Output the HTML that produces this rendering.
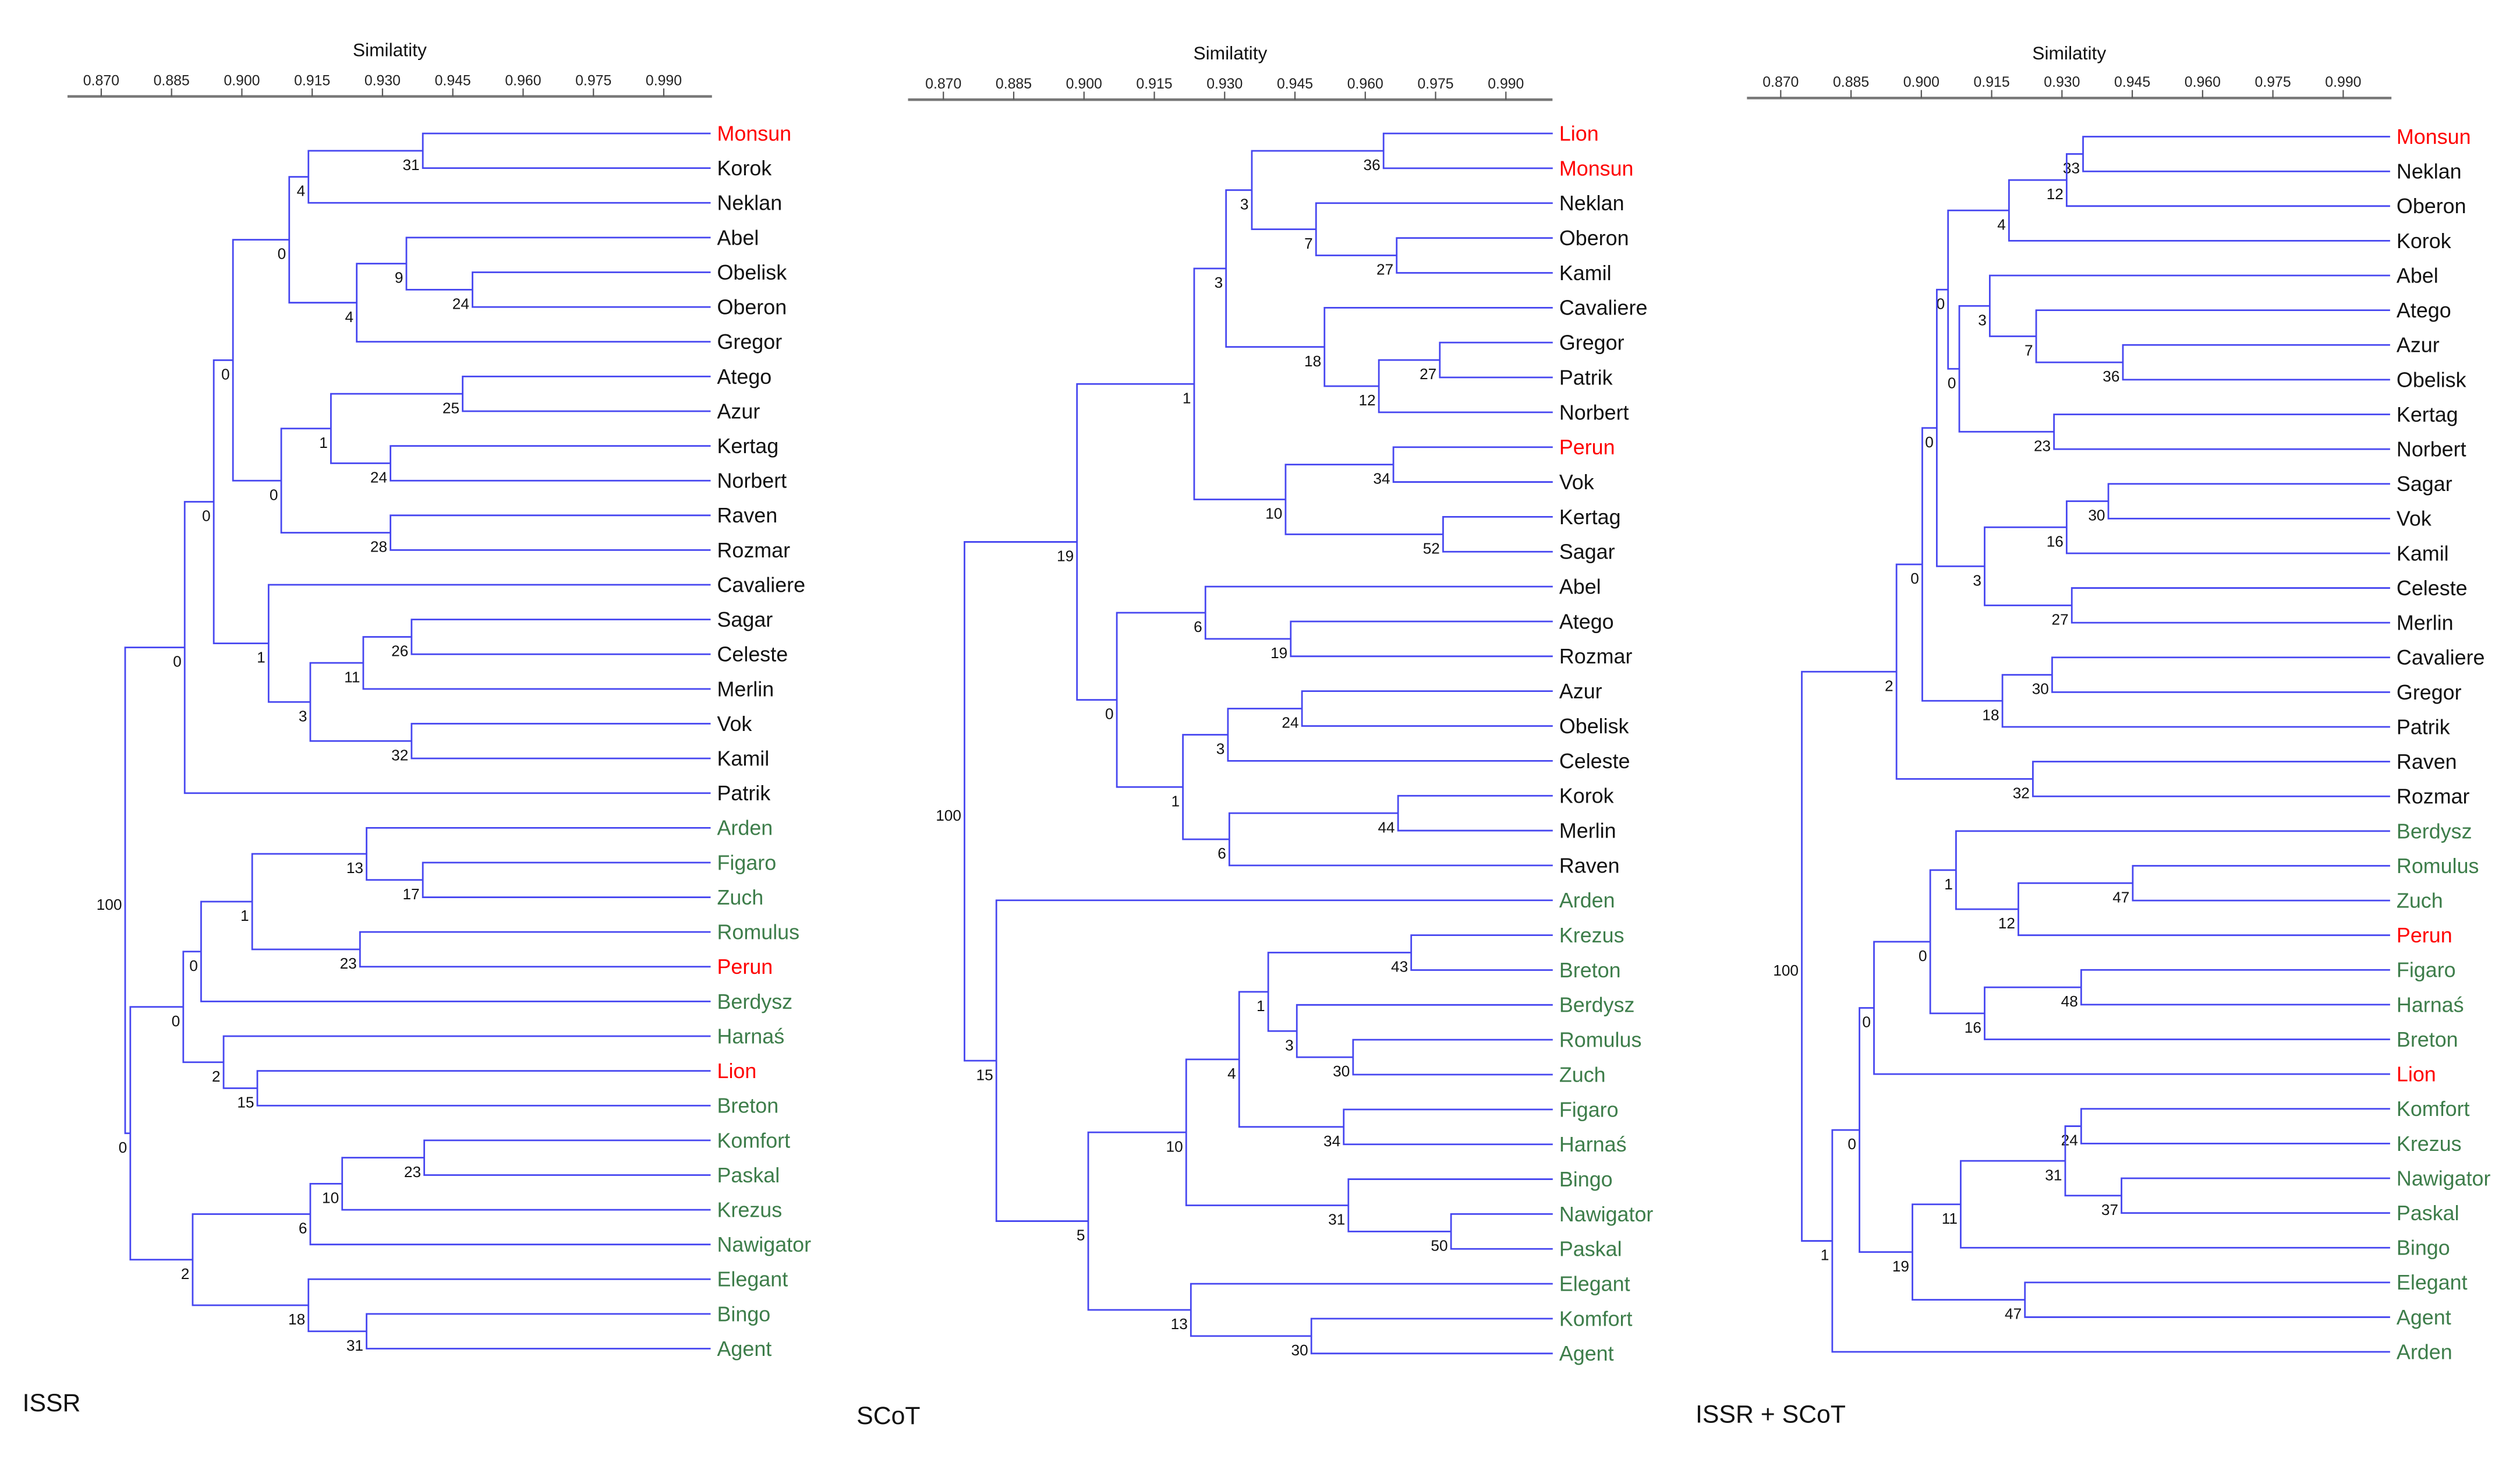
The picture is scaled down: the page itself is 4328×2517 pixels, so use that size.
<!DOCTYPE html>
<html><head><meta charset="utf-8">
<style>
html,body{margin:0;padding:0;background:#fff;}
svg{display:block;}
text{font-family:"Liberation Sans",sans-serif;}
</style></head>
<body>
<svg id="chart" width="4328" height="2517" viewBox="0 0 1568 912" preserveAspectRatio="none" xmlns="http://www.w3.org/2000/svg"></svg>
<script>
const tickValues = [0.870,0.885,0.900,0.915,0.930,0.945,0.960,0.975,0.990];
const tickLabels = ["0.870","0.885","0.900","0.915","0.930","0.945","0.960","0.975","0.990"];
const panelTitles = ["ISSR","SCoT","ISSR + SCoT"];

const leaves1 = ["Monsun","Korok","Neklan","Abel","Obelisk","Oberon","Gregor","Atego","Azur","Kertag","Norbert","Raven","Rozmar","Cavaliere","Sagar","Celeste","Merlin","Vok","Kamil","Patrik","Arden","Figaro","Zuch","Romulus","Perun","Berdysz","Harnaś","Lion","Breton","Komfort","Paskal","Krezus","Nawigator","Elegant","Bingo","Agent"];
const red1 = ["Monsun","Perun","Lion"];
const green1 = ["Arden","Figaro","Zuch","Romulus","Berdysz","Harnaś","Breton","Komfort","Paskal","Krezus","Nawigator","Elegant","Bingo","Agent"];
const merges1 = [
["Monsun","Korok",.9386,31],["m0","Neklan",.9142,4],["Obelisk","Oberon",.9492,24],["Abel","m2",.9351,9],
["m3","Gregor",.9245,4],["m1","m4",.9101,0],["Atego","Azur",.9471,25],["Kertag","Norbert",.9317,24],
["m6","m7",.9190,1],["Raven","Rozmar",.9317,28],["m8","m9",.9084,0],["m5","m10",.8981,0],
["Sagar","Celeste",.9362,26],["m12","Merlin",.9259,11],["Vok","Kamil",.9362,32],["m13","m14",.9146,3],
["Cavaliere","m15",.9057,1],["m11","m16",.8940,0],["m17","Patrik",.8878,0],["Figaro","Zuch",.9386,17],
["Arden","m19",.9266,13],["Romulus","Perun",.9252,23],["m20","m21",.9022,1],["m22","Berdysz",.8913,0],
["Lion","Breton",.9033,15],["Harnaś","m24",.8961,2],["m23","m25",.8875,0],["Komfort","Paskal",.9389,23],
["m27","Krezus",.9214,10],["m28","Nawigator",.9146,6],["Bingo","Agent",.9266,31],["Elegant","m30",.9142,18],
["m29","m31",.8895,2],["m26","m32",.8762,0],["m18","m33",.8751,100]];

const leaves2 = ["Lion","Monsun","Neklan","Oberon","Kamil","Cavaliere","Gregor","Patrik","Norbert","Perun","Vok","Kertag","Sagar","Abel","Atego","Rozmar","Azur","Obelisk","Celeste","Korok","Merlin","Raven","Arden","Krezus","Breton","Berdysz","Romulus","Zuch","Figaro","Harnaś","Bingo","Nawigator","Paskal","Elegant","Komfort","Agent"];
const red2 = ["Lion","Monsun","Perun"];
const green2 = ["Arden","Krezus","Breton","Berdysz","Romulus","Zuch","Figaro","Harnaś","Bingo","Nawigator","Paskal","Elegant","Komfort","Agent"];
const merges2 = [
["Lion","Monsun",.9639,36],["Oberon","Kamil",.9667,27],["Neklan","m1",.9495,7],["m0","m2",.9358,3],
["Gregor","Patrik",.9759,27],["m4","Norbert",.9629,12],["Cavaliere","m5",.9513,18],["m3","m6",.9303,3],
["Perun","Vok",.9660,34],["Kertag","Sagar",.9766,52],["m8","m9",.9430,10],["m7","m10",.9235,1],
["Atego","Rozmar",.9441,19],["Abel","m12",.9259,6],["Azur","Obelisk",.9465,24],["m14","Celeste",.9307,3],
["Korok","Merlin",.9670,44],["m16","Raven",.9310,6],["m15","m17",.9211,1],["m13","m18",.9070,0],
["m11","m19",.8985,19],["Krezus","Breton",.9698,43],["Romulus","Zuch",.9574,30],["Berdysz","m22",.9454,3],
["m21","m23",.9393,1],["Figaro","Harnaś",.9554,34],["m24","m25",.9331,4],["Nawigator","Paskal",.9783,50],
["Bingo","m27",.9564,31],["m26","m28",.9218,10],["Komfort","Agent",.9485,30],["Elegant","m30",.9228,13],
["m29","m31",.9009,5],["Arden","m32",.8813,15],["m20","m33",.8745,100]];

const leaves3 = ["Monsun","Neklan","Oberon","Korok","Abel","Atego","Azur","Obelisk","Kertag","Norbert","Sagar","Vok","Kamil","Celeste","Merlin","Cavaliere","Gregor","Patrik","Raven","Rozmar","Berdysz","Romulus","Zuch","Perun","Figaro","Harnaś","Breton","Lion","Komfort","Krezus","Nawigator","Paskal","Bingo","Elegant","Agent","Arden"];
const red3 = ["Monsun","Perun","Lion"];
const green3 = ["Berdysz","Romulus","Zuch","Figaro","Harnaś","Breton","Komfort","Krezus","Nawigator","Paskal","Bingo","Elegant","Agent","Arden"];
const merges3 = [
["Monsun","Neklan",.9345,33],["m0","Oberon",.9310,12],["m1","Korok",.9187,4],["Azur","Obelisk",.9430,36],
["Atego","m3",.9245,7],["Abel","m4",.9146,3],["Kertag","Norbert",.9283,23],["m5","m6",.9081,0],
["m2","m7",.9057,0],["Sagar","Vok",.9399,30],["m9","Kamil",.9310,16],["Celeste","Merlin",.9321,27],
["m10","m11",.9135,3],["m8","m12",.9033,0],["Cavaliere","Gregor",.9279,30],["m14","Patrik",.9173,18],
["m13","m15",.9002,0],["Raven","Rozmar",.9238,32],["m16","m17",.8947,2],["Romulus","Zuch",.9451,47],
["m19","Perun",.9207,12],["Berdysz","m20",.9074,1],["Figaro","Harnaś",.9341,48],["m22","Breton",.9135,16],
["m21","m23",.9019,0],["m24","Lion",.8899,0],["Komfort","Krezus",.9341,24],["Nawigator","Paskal",.9427,37],
["m26","m27",.9307,31],["m28","Bingo",.9084,11],["Elegant","Agent",.9221,47],["m29","m30",.8981,19],
["m25","m31",.8868,0],["m32","Arden",.8810,1],["m18","m33",.8745,100]];

const NS="http://www.w3.org/2000/svg";
const svg=document.getElementById('chart');
function mk(tag,attrs,parent){const e=document.createElementNS(NS,tag);for(const k in attrs)e.setAttribute(k,attrs[k]);(parent||svg).appendChild(e);return e;}

const panels=[
 {key:"issr",leaves:leaves1,merges:merges1,red:red1,green:green1,x0:63,axL:42,axR:443,axY:60,titleY:35,y0:83,y1:839,lab:[14,878]},
 {key:"scot",leaves:leaves2,merges:merges2,red:red2,green:green2,x0:587,axL:565,axR:966,axY:62,titleY:37,y0:83,y1:842,lab:[533,886]},
 {key:"combined",leaves:leaves3,merges:merges3,red:red3,green:green3,x0:1108,axL:1087,axR:1488,axY:61,titleY:37,y0:85,y1:841,lab:[1055,885]}
];
const LINE="#4646f0", GREEN="#3d7d4a";

panels.forEach((p,pi)=>{
  const g=mk('g',{});
  
  
  const sx=v=>p.x0+(v-0.870)*(43.75/0.015);
  const step=(p.y1-p.y0)/(p.leaves.length-1);
  // axis
  const ax=mk('line',{x1:p.axL,x2:p.axR,y1:p.axY,y2:p.axY,stroke:"#777","stroke-width":1.6},g);
  
  
  tickValues.forEach((v,i)=>{
    const t=mk('line',{x1:sx(v),x2:sx(v),y1:p.axY-5,y2:p.axY,stroke:"#555","stroke-width":0.8},g);
    
    
    const tl=mk('text',{x:sx(v),y:p.axY-7,"font-size":9,"text-anchor":"middle",fill:"#222"},g);
    tl.textContent=tickLabels[i];
    
    
  });
  const ttl=mk('text',{x:(p.axL+p.axR)/2,y:p.titleY,"font-size":11.5,"text-anchor":"middle",fill:"#111"},g);
  ttl.textContent="Similatity";
  
  
  // nodes
  const pos={};
  p.leaves.forEach((n,i)=>{
    pos[n]={x:sx(1.0),y:p.y0+i*step};
    const c=p.red.includes(n)?"#ff0000":(p.green.includes(n)?GREEN:"#111");
    const t=mk('text',{x:sx(1.0)+4,y:p.y0+i*step+4.5,"font-size":13,fill:c},g);
    t.textContent=n;
    
    
  });
  p.merges.forEach((m,i)=>{
    const a=pos[m[0]], b=pos[m[1]];
    const x=sx(m[2]);
    const path=mk('path',{d:`M${a.x},${a.y}H${x}V${b.y}H${b.x}`,fill:"none",stroke:LINE,"stroke-width":1},g);
    
    
    const my=(a.y+b.y)/2;
    pos["m"+i]={x:x,y:my};
    const bt=mk('text',{x:x-2,y:my+12,"font-size":9.5,"text-anchor":"end",fill:"#111"},g);
    bt.textContent=String(m[3]);
    
    
  });
  const pl=mk('text',{x:p.lab[0],y:p.lab[1],"font-size":15.5,fill:"#111"},g);
  pl.textContent=panelTitles[pi];
  
  
});
</script>
</body></html>
